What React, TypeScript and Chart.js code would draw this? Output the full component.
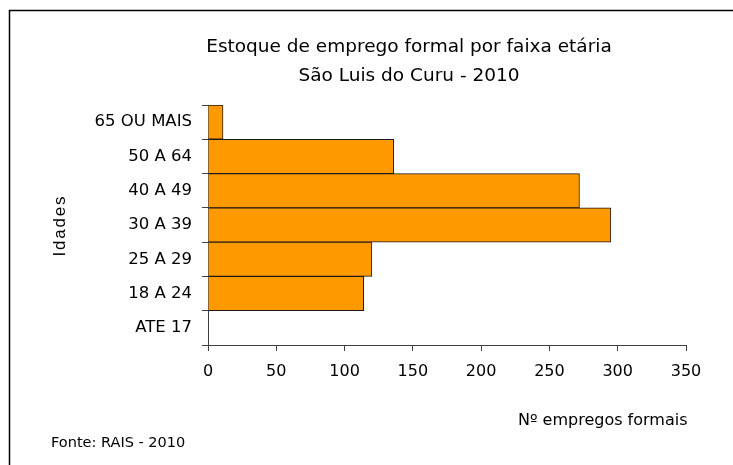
import React, { useEffect, useRef } from "react";
import { Chart, registerables } from "chart.js";

Chart.register(...registerables);

const TITLE_LINES = ["Estoque de emprego formal por faixa etária", "São Luis do Curu - 2010"];
const CATEGORIES = ["65 OU MAIS", "50 A 64", "40 A 49", "30 A 39", "25 A 29", "18 A 24", "ATE 17"];
const VALUES = [11, 136, 272, 295, 120, 114, 0];
const X_TITLE = "Nº empregos formais";
const Y_TITLE = "Idades";
const SOURCE = "Fonte: RAIS - 2010";

const FONT = "DejaVu Sans";

const decorPlugin = {
  id: "decor",
  afterDraw(chart: any) {
    const ctx = chart.ctx as CanvasRenderingContext2D;
    ctx.save();
    // frame
    ctx.strokeStyle = "#000";
    ctx.lineWidth = 1.5;
    ctx.beginPath();
    ctx.moveTo(9.5, 480);
    ctx.lineTo(9.5, 10.5);
    ctx.lineTo(740, 10.5);
    ctx.stroke();

    ctx.fillStyle = "#000";
    // title
    ctx.font = `18.5px "${FONT}"`;
    ctx.textAlign = "center";
    ctx.textBaseline = "alphabetic";
    ctx.fillText(TITLE_LINES[0], 409, 52);
    ctx.fillText(TITLE_LINES[1], 409, 81);

    // x title
    ctx.font = `16px "${FONT}"`;
    ctx.textAlign = "left";
    ctx.fillText(X_TITLE, 518, 425);

    // source
    ctx.font = `14.5px "${FONT}"`;
    ctx.fillText(SOURCE, 51, 446.5);

    // y title
    ctx.save();
    ctx.translate(64.5, 226.5);
    ctx.rotate(-Math.PI / 2);
    ctx.font = `17px "Liberation Sans"`;
    (ctx as any).letterSpacing = "1.8px";
    ctx.textAlign = "center";
    ctx.fillText(Y_TITLE, 0.9, 0);
    ctx.restore();

    ctx.restore();
  },
};

export default function App() {
  const ref = useRef<HTMLCanvasElement | null>(null);

  useEffect(() => {
    document.body.style.margin = "0";
    const canvas = ref.current;
    if (!canvas) return;
    const chart = new Chart(canvas, {
      type: "bar",
      data: {
        labels: CATEGORIES,
        datasets: [
          {
            data: VALUES,
            backgroundColor: "#FF9900",
            borderColor: "#1a1a1a",
            borderWidth: 1,
            barPercentage: 1,
            categoryPercentage: 1,
          },
        ],
      },
      options: {
        indexAxis: "y",
        responsive: false,
        animation: false,
        devicePixelRatio: 1,
        layout: { padding: { top: 105, right: 47, left: 0, bottom: 0 } },
        plugins: {
          legend: { display: false },
          title: { display: false },
          tooltip: { enabled: false },
        },
        scales: {
          x: {
            min: 0,
            max: 350,
            ticks: {
              stepSize: 50,
              color: "#000",
              font: { family: FONT, size: 16 },
              padding: 11,
              maxRotation: 0,
            },
            grid: { drawOnChartArea: false, drawTicks: true, tickLength: 6, color: "#404040" },
            border: { color: "#404040", width: 1 },
            afterFit: (scale: any) => {
              scale.height = 120;
            },
          },
          y: {
            ticks: {
              color: "#000",
              font: { family: FONT, size: 16.5 },
              padding: 10,
            },
            grid: { offset: true, drawOnChartArea: false, drawTicks: true, tickLength: 6, color: "#404040" },
            border: { color: "#404040", width: 1 },
            afterFit: (scale: any) => {
              scale.width = 208;
            },
          },
        },
      },
      plugins: [decorPlugin],
    } as any);
    return () => chart.destroy();
  }, []);

  return (
    <div style={{ position: "absolute", left: 0, top: 0, width: 733, height: 465, background: "#fff" }}>
      <canvas ref={ref} width={733} height={465} style={{ width: 733, height: 465, display: "block" }} />
    </div>
  );
}
